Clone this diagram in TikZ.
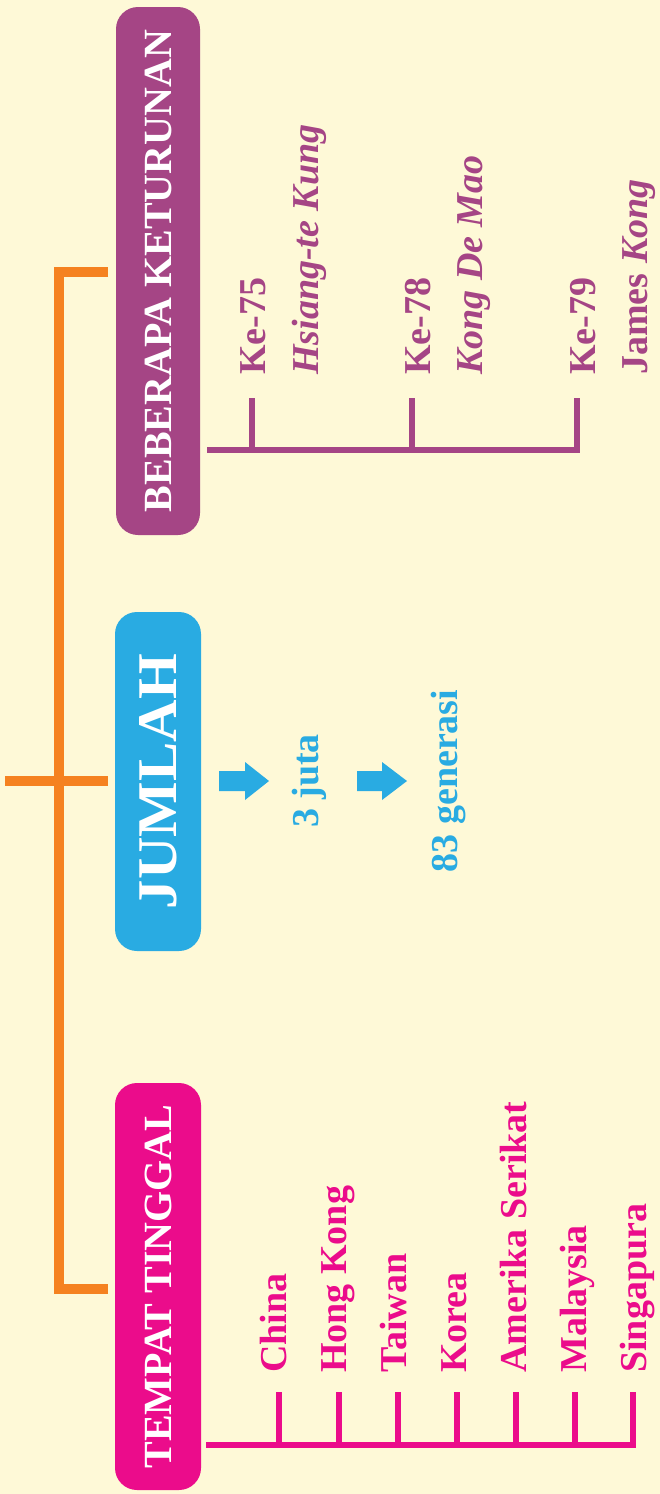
\documentclass[tikz,border=0pt]{standalone}
\usepackage{fontspec}
\setmainfont{Liberation Serif}
\definecolor{bg}{HTML}{FEF9D7}
\definecolor{kpurple}{HTML}{A54585}
\definecolor{kpink}{HTML}{EB0C8B}
\definecolor{kblue}{HTML}{29ABE2}
\definecolor{korange}{HTML}{F58220}
\begin{document}
\begin{tikzpicture}[x=1pt,y=-1pt,
  hdr/.style={rounded corners=22pt, rotate=90, inner sep=0pt, text=white,
    font=\fontsize{40}{40}\selectfont\bfseries},
  item/.style={rotate=90, anchor=base west, inner sep=0pt,
    font=\fontsize{38}{40}\selectfont\bfseries},
  bluetxt/.style={rotate=90, anchor=base, inner sep=0pt, text=kblue,
    font=\fontsize{38}{40}\selectfont\bfseries},
  trunk/.style={draw=korange, line width=10pt},
  pbrack/.style={draw=kpurple, line width=6pt},
  kbrack/.style={draw=kpink, line width=6pt}]
\fill[bg] (0,0) rectangle (660,1494);
\useasboundingbox (0,0) rectangle (660,1494);

% header boxes
\node[hdr, fill=kpurple, minimum width=528pt, minimum height=84pt] (keturunan) at (158,271) {BEBERAPA KETURUNAN};
\node[hdr, fill=kblue, minimum width=339pt, minimum height=86pt, font=\fontsize{54}{54}\selectfont\bfseries] (jumlah) at (158,781.5) {\resizebox{255pt}{37pt}{JUMLAH}};
\node[hdr, fill=kpink, minimum width=407pt, minimum height=86pt] (tempat) at (158,1286.5) {TEMPAT TINGGAL};

% orange trunk
\coordinate (tTop) at (108,272);
\coordinate (tMid) at (108,781);
\coordinate (tBot) at (108,1289);
\coordinate (tLeft) at (5,781);
\draw[trunk] (tTop) -- (59,272) -- (59,1289) -- (tBot);
\draw[trunk] (tLeft) -- (tMid);

% purple items
\node[item, text=kpurple] (k75) at (265,375) {Ke-75};
\node[item, text=kpurple, font=\fontsize{38}{40}\selectfont\bfseries\itshape] (n75) at (318,375) {Hsiang-te Kung};
\node[item, text=kpurple] (k78) at (430,375) {Ke-78};
\node[item, text=kpurple, font=\fontsize{38}{40}\selectfont\bfseries\itshape] (n78) at (482,375) {Kong De Mao};
\node[item, text=kpurple] (k79) at (595,375) {Ke-79};
\node[item, text=kpurple] (n79) at (647,375) {James \textit{Kong}};

\coordinate (pL) at (207,450);
\coordinate (p1) at (252,398);
\coordinate (p2) at (412,398);
\coordinate (p3) at (577,398);
\draw[pbrack] (pL) -- (p3 |- pL) -- (p3);
\draw[pbrack] (p1) -- (p1 |- pL);
\draw[pbrack] (p2) -- (p2 |- pL);

% blue
\fill[kblue] (219,771) -- (245,771) -- (245,762) -- (269,781) -- (245,800) -- (245,791) -- (219,791) -- cycle;
\node[bluetxt] (juta) at (318,781) {3 juta};
\fill[kblue] (357,771) -- (382,771) -- (382,762) -- (407,781) -- (382,800) -- (382,791) -- (357,791) -- cycle;
\node[bluetxt] (gen) at (457,781) {83 generasi};

% pink items
\node[item, text=kpink] (c1) at (286,1373) {China};
\node[item, text=kpink] (c2) at (346,1373) {Hong Kong};
\node[item, text=kpink] (c3) at (406,1373) {Taiwan};
\node[item, text=kpink] (c4) at (466,1373) {Korea};
\node[item, text=kpink] (c5) at (526,1373) {Amerika Serikat};
\node[item, text=kpink] (c6) at (586,1373) {Malaysia};
\node[item, text=kpink] (c7) at (646,1373) {Singapura};

\coordinate (kL) at (206,1445);
\coordinate (kt7) at (633,1392);
\draw[kbrack] (kL) -- (kt7 |- kL) -- (kt7);
\foreach \x in {279,339,398,457,516,575} {
  \draw[kbrack] (\x,1392) -- (\x,1445);
}
\end{tikzpicture}
\end{document}
